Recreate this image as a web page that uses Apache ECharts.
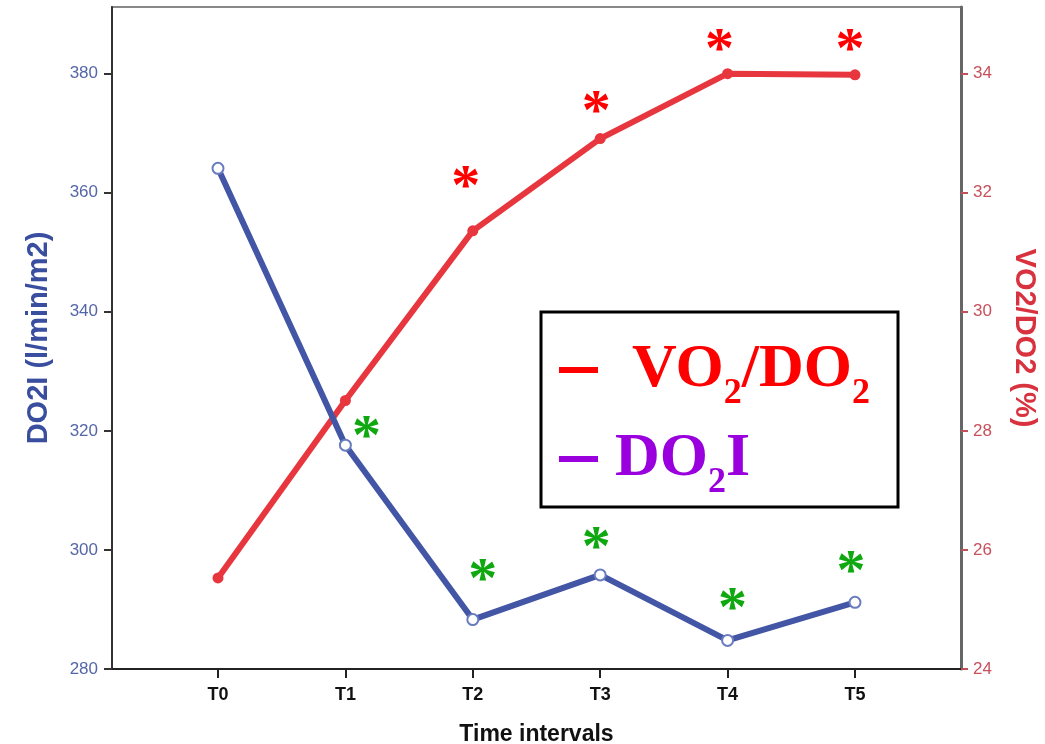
<!DOCTYPE html>
<html>
<head>
<meta charset="utf-8">
<script src="https://cdn.jsdelivr.net/npm/echarts@6/dist/echarts.min.js"></script>
<style>
  html, body { margin: 0; padding: 0; background: #fff; }
  #chart { width: 1045px; height: 744px; }
</style>
</head>
<body>
<div id="chart"></div>
<script>
// data
var timePoints = ['T0', 'T1', 'T2', 'T3', 'T4', 'T5'];
var do2i = [364.1, 317.6, 288.3, 295.8, 284.8, 291.2];     // left axis
var vo2do2 = [25.53, 28.51, 31.36, 32.91, 34.0, 33.98];    // right axis
var do2iSig = [false, true, true, true, true, true];
var vo2do2Sig = [false, false, true, true, true, true];
var leftTicks = [280, 300, 320, 340, 360, 380];
var rightTicks = [24, 26, 28, 30, 32, 34];

// where each asterisk sits relative to its point (px)
var greenOffsets = [[0, 0], [21, -6], [10, -38], [-4, -25], [5, -29], [-4, -28]];
var redOffsets = [[0, 0], [0, 0], [-7, -42], [-4, -25], [-8, -22], [-5, -23]];

function buildData(values, sig, offsets, color) {
  return values.map(function (v, i) {
    return {
      value: [i, v],
      label: {
        show: sig[i],
        formatter: '*',
        position: 'inside',
        offset: offsets[i],
        color: color,
        fontFamily: 'Liberation Serif',
        fontWeight: 'bold',
        fontSize: 58
      }
    };
  });
}

var bigFont = { fontFamily: 'Liberation Serif', fontWeight: 'bold', fontSize: 62, lineHeight: 62 };
var subFont = { fontFamily: 'Liberation Serif', fontWeight: 'bold', fontSize: 36, lineHeight: 12, verticalAlign: 'top', padding: [37, 0, 0, 0] };

var myChart = echarts.init(document.getElementById('chart'));
myChart.setOption({
  animation: false,
  backgroundColor: '#fff',
  grid: {
    left: 112, right: 84, top: 7, bottom: 75,
    outerBoundsMode: 'none',
    show: true, borderColor: '#888', borderWidth: 2
  },
  legend: {
    orient: 'vertical',
    left: 559,
    top: 339,
    padding: 0,
    itemGap: 16,
    itemWidth: 39,
    itemHeight: 6,
    selectedMode: false,
    z: 20,
    data: [
      { name: 'VO2/DO2', icon: 'rect', itemStyle: { color: '#ff0000' } },
      { name: 'DO2I', icon: 'rect', itemStyle: { color: '#9900dd' } }
    ],
    formatter: function (name) {
      if (name === 'VO2/DO2') {
        return '{g1|}{r|VO}{rs|2}{r|/DO}{rs|2}';
      }
      return '{g2|}{p|DO}{ps|2}{p|I}';
    },
    textStyle: {
      rich: {
        g1: { width: 29, height: 10 },
        g2: { width: 12, height: 10 },
        r: Object.assign({ color: '#ff0000' }, bigFont),
        rs: Object.assign({ color: '#ff0000' }, subFont),
        p: Object.assign({ color: '#9900dd' }, bigFont),
        ps: Object.assign({ color: '#9900dd' }, subFont)
      }
    }
  },
  graphic: [
    {
      type: 'rect',
      shape: { x: 541, y: 312, width: 357, height: 195 },
      style: { fill: '#fff', stroke: '#000', lineWidth: 3 },
      z: 5
    }
  ],
  xAxis: {
    type: 'value',
    min: -0.832,
    max: 5.832,
    name: 'Time intervals',
    nameLocation: 'middle',
    nameGap: 54,
    nameTextStyle: { color: '#111', fontFamily: 'Liberation Sans', fontWeight: 'bold', fontSize: 23 },
    splitLine: { show: false },
    axisLine: { onZero: false, lineStyle: { color: '#222', width: 2 } },
    axisTick: { customValues: [0, 1, 2, 3, 4, 5], length: 9, lineStyle: { color: '#222', width: 2 } },
    axisLabel: {
      customValues: [0, 1, 2, 3, 4, 5],
      formatter: function (v) { return timePoints[Math.round(v)]; },
      margin: 17,
      color: '#111',
      fontFamily: 'Liberation Sans',
      fontWeight: 'bold',
      fontSize: 18
    }
  },
  yAxis: [
    {
      type: 'value',
      position: 'left',
      min: 280,
      max: 391.2,
      name: 'DO2I (l/min/m2)',
      nameLocation: 'middle',
      nameGap: 59,
      nameTextStyle: { color: '#3a4ea0', fontFamily: 'Liberation Sans', fontWeight: 'bold', fontSize: 29 },
      splitLine: { show: false },
      axisLine: { show: true, onZero: false, lineStyle: { color: '#333', width: 2 } },
      axisTick: { show: true, customValues: leftTicks, length: 8, lineStyle: { color: '#333', width: 2 } },
      axisLabel: { customValues: leftTicks, margin: 14, color: '#5566a8', fontFamily: 'Liberation Sans', fontSize: 17 }
    },
    {
      type: 'value',
      position: 'right',
      min: 24,
      max: 35.12,
      name: 'VO2/DO2 (%)',
      nameLocation: 'middle',
      nameRotate: -90,
      nameGap: 48,
      nameTextStyle: { color: '#d8323e', fontFamily: 'Liberation Sans', fontWeight: 'bold', fontSize: 29 },
      splitLine: { show: false },
      axisLine: { show: true, onZero: false, lineStyle: { color: '#666', width: 3 } },
      axisTick: { show: true, customValues: rightTicks, length: 7, lineStyle: { color: '#c0505a', width: 2 } },
      axisLabel: { customValues: rightTicks, margin: 12, color: '#c8505c', fontFamily: 'Liberation Sans', fontSize: 17 }
    }
  ],
  series: [
    {
      name: 'VO2/DO2',
      type: 'line',
      yAxisIndex: 1,
      data: buildData(vo2do2, vo2do2Sig, redOffsets, '#ff0000'),
      symbol: 'circle',
      symbolSize: 11,
      lineStyle: { color: '#e8363f', width: 6 },
      itemStyle: { color: '#e8363f' },
      z: 3
    },
    {
      name: 'DO2I',
      type: 'line',
      yAxisIndex: 0,
      data: buildData(do2i, do2iSig, greenOffsets, '#10a810'),
      symbol: 'emptyCircle',
      symbolSize: 11,
      lineStyle: { color: '#4356a6', width: 6 },
      itemStyle: { color: '#6a7cc0', borderWidth: 1.5 },
      z: 4
    }
  ]
});
</script>
</body>
</html>
